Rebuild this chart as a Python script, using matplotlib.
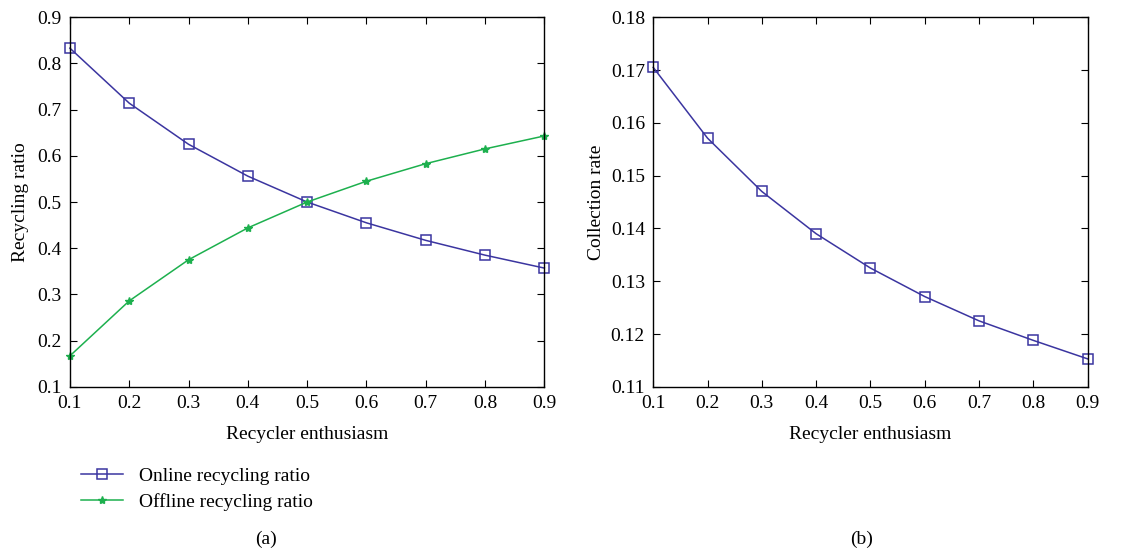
import matplotlib.pyplot as plt

plt.rcParams['font.family'] = ['Liberation Serif', 'DejaVu Serif']

enthusiasm = [0.1, 0.2, 0.3, 0.4, 0.5, 0.6, 0.7, 0.8, 0.9]
online_ratio = [0.833, 0.714, 0.625, 0.556, 0.500, 0.455, 0.417, 0.385, 0.357]
offline_ratio = [0.167, 0.286, 0.375, 0.444, 0.500, 0.545, 0.583, 0.615, 0.643]
collection_rate = [0.1705, 0.1571, 0.1470, 0.1390, 0.1325, 0.1271, 0.1225, 0.1188, 0.1153]

blue = '#3b35a0'
green = '#1db04e'

fig = plt.figure(figsize=(11.46, 5.55), dpi=100)
ax1 = fig.add_axes([0.061, 0.303, 0.414, 0.666])
ax2 = fig.add_axes([0.570, 0.303, 0.379, 0.666])

l1, = ax1.plot(enthusiasm, online_ratio, color=blue, lw=1.1, marker='s', ms=7,
               mfc='none', mec=blue, mew=1.1, clip_on=False)
l2, = ax1.plot(enthusiasm, offline_ratio, color=green, lw=1.1, marker='*', ms=6,
               mfc=green, mec=green, clip_on=False)
ax1.set_xlim(0.1, 0.9)
ax1.set_ylim(0.1, 0.9)
ax1.set_yticks([0.1, 0.2, 0.3, 0.4, 0.5, 0.6, 0.7, 0.8, 0.9])
ax1.set_ylabel('Recycling ratio', fontsize=14, labelpad=6)
ax1.set_xlabel('Recycler enthusiasm', fontsize=14, labelpad=10)

ax2.plot(enthusiasm, collection_rate, color=blue, lw=1.1, marker='s', ms=7,
         mfc='none', mec=blue, mew=1.1, clip_on=False)
ax2.set_xlim(0.1, 0.9)
ax2.set_ylim(0.11, 0.18)
ax2.set_yticks([0.11, 0.12, 0.13, 0.14, 0.15, 0.16, 0.17, 0.18])
ax2.set_ylabel('Collection rate', fontsize=14, labelpad=4)
ax2.set_xlabel('Recycler enthusiasm', fontsize=14, labelpad=10)

for ax in (ax1, ax2):
    ax.set_xticks([0.1, 0.2, 0.3, 0.4, 0.5, 0.6, 0.7, 0.8, 0.9])
    ax.tick_params(direction='in', top=True, right=True, labelsize=14, length=5, pad=6)
    ax.xaxis.set_major_formatter(plt.FormatStrFormatter('%g'))
    ax.yaxis.set_major_formatter(plt.FormatStrFormatter('%g'))
    for s in ax.spines.values():
        s.set_linewidth(1.0)

fig.legend([l1, l2], ['Online recycling ratio', 'Offline recycling ratio'],
           loc='upper left', bbox_to_anchor=(0.055, 0.19), frameon=False,
           fontsize=14, handlelength=2.2, labelspacing=0.45)

fig.text(0.2325, 0.02, '(a)', ha='center', fontsize=14)
fig.text(0.752, 0.02, '(b)', ha='center', fontsize=14)

fig.savefig('out.png', dpi=100)
